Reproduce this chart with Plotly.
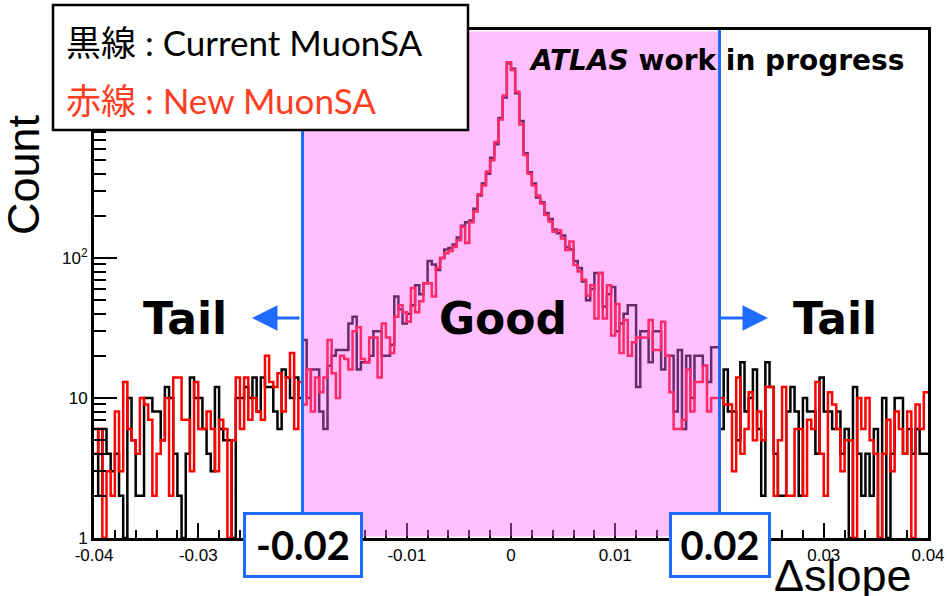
import numpy as np
import plotly.graph_objects as go

# ---- data: 200 bins of Δslope in [-0.04, 0.04] ----
x_min, x_max, n_bins = -0.04, 0.04, 200

current_tail_left = [6, 2, 6, 4, 3, 4, 2, 1, 10, 5, 2, 2, 10, 10, 8, 8, 5, 12, 10, 4,
                     2, 1, 4, 14, 10, 10, 6, 4, 3, 12, 6, 5, 5, 1, 10, 10, 12, 10, 14, 8,
                     14, 12, 12, 8, 6, 16, 14, 10, 14, 10]
current_core_left = [26, 10, 16, 16, 8, 6, 17, 20, 22, 22, 22, 34, 38, 16, 18, 18, 20, 30, 30, 20,
                     20, 24, 53, 43, 34, 40, 46, 64, 55, 66, 95, 90, 82, 100, 115, 118, 125, 140, 170, 180,
                     185, 225, 280, 340, 400, 520, 650, 1000, 1400, 2450]
current_core_right = [2250, 1500, 950, 560, 410, 340, 270, 250, 210, 190, 160, 150, 145, 120, 115, 95, 85, 68, 50, 60,
                      78, 78, 45, 55, 62, 30, 34, 40, 46, 46, 12, 30, 30, 18, 30, 30, 16, 20, 20, 8,
                      22, 6, 20, 10, 20, 20, 17, 13, 23, 23]
current_tail_right = [6, 16, 8, 8, 5, 18, 8, 10, 16, 6, 2, 18, 12, 4, 2, 2, 8, 12, 8, 2,
                      10, 8, 8, 4, 14, 8, 8, 6, 8, 4, 6, 1, 12, 4, 2, 4, 2, 6, 1, 10,
                      1, 4, 10, 10, 4, 6, 4, 6, 4, 4]

new_tail_left = [4, 6, 1, 3, 2, 8, 3, 13, 6, 5, 4, 10, 9, 7, 2, 4, 5, 10, 2, 14,
                 14, 7, 7, 3, 13, 6, 6, 8, 6, 3, 7, 6, 1, 5, 14, 6, 14, 7, 10, 8,
                 7, 20, 13, 12, 15, 8, 14, 21, 6, 13]
new_core_left = [9, 16, 8, 14, 11, 14, 26, 15, 10, 20, 19, 16, 30, 32, 19, 18, 27, 27, 14, 34,
                 27, 21, 38, 46, 41, 35, 61, 41, 49, 66, 66, 53, 85, 100, 108, 112, 120, 134, 167, 128,
                 180, 215, 285, 330, 415, 500, 675, 975, 1450, 2500]
new_core_right = [2200, 1540, 900, 545, 400, 330, 280, 245, 203, 182, 154, 158, 138, 114, 131, 89, 80, 70, 54, 64,
                  37, 78, 37, 64, 28, 47, 21, 36, 20, 25, 27, 27, 27, 36, 22, 22, 35, 20, 11, 6,
                  6, 7, 16, 8, 13, 13, 17, 8, 10, 10]
new_tail_right = [10, 9, 9, 3, 14, 4, 6, 11, 5, 8, 5, 12, 12, 2, 5, 12, 2, 2, 6, 6,
                  2, 7, 6, 13, 4, 2, 11, 9, 6, 3, 5, 5, 1, 10, 6, 10, 5, 4, 1, 4,
                  7, 3, 8, 6, 4, 8, 1, 9, 6, 11]

# -0.02 and 0.02 labels are hidden under the cut boxes in the reference
x_tick_vals = [-0.04, -0.03, -0.02, -0.01, 0, 0.01, 0.02, 0.03, 0.04]
x_tick_text = ["-0.04", "-0.03", "", "-0.01", "0", "0.01", "", "0.03", "0.04"]
y_tick_vals = [1, 10, 100]
y_tick_text = ["1", "10", "10<sup>2</sup>"]
cut_low, cut_high = -0.02, 0.02

current = current_tail_left + current_core_left + current_core_right + current_tail_right
new = new_tail_left + new_core_left + new_core_right + new_tail_right

edges = np.linspace(x_min, x_max, n_bins + 1)


def step_xy(counts):
    return list(edges), list(counts) + [counts[-1]]


fig = go.Figure()
for counts, color in [(current, "#000000"), (new, "#FF0000")]:
    sx, sy = step_xy(counts)
    fig.add_trace(go.Scatter(x=sx, y=sy, mode="lines", line=dict(color=color, width=2.5, shape="hv"),
                             showlegend=False, hoverinfo="skip"))

W, H = 950, 596
L, R, T, B = 94, 22, 30, 58
pw, ph = W - L - R, H - T - B


def px(xp):
    return (xp - L) / pw


def py(yp):
    return (H - B - yp) / ph


blue = "#1F6BFF"
TXT = "Liberation Sans, Arial, sans-serif"
HEAVY = "DejaVu Sans, sans-serif"
NUM = "Lato, 'Noto Sans', sans-serif"

shapes = [
    # pink "Good" region overlay
    dict(type="rect", xref="x", yref="paper", x0=cut_low, x1=cut_high, y0=1.5 / ph, y1=1 - 1.5 / ph,
         fillcolor="rgba(255,100,250,0.42)", line=dict(width=0), layer="above"),
    dict(type="line", xref="x", yref="paper", x0=cut_low, x1=cut_low, y0=py(512), y1=1,
         line=dict(color=blue, width=3), layer="above"),
    dict(type="line", xref="x", yref="paper", x0=cut_high, x1=cut_high, y0=py(512), y1=1,
         line=dict(color=blue, width=3), layer="above"),
    # legend box
    dict(type="rect", xref="paper", yref="paper", x0=px(53), x1=px(468), y0=py(130), y1=py(5),
         fillcolor="white", line=dict(color="black", width=2.5), layer="above"),
]

ann = []
ann.append(dict(x=px(64), y=py(42), xref="paper", yref="paper", xanchor="left", yanchor="middle",
                text="黒線 : Current MuonSA", showarrow=False,
                font=dict(family="Lato, 'Noto Sans CJK JP'", size=35, color="black")))
ann.append(dict(x=px(64), y=py(100), xref="paper", yref="paper", xanchor="left", yanchor="middle",
                text="赤線 : New MuonSA", showarrow=False,
                font=dict(family="Lato, 'Noto Sans CJK JP'", size=35, color="#FF3D1F")))
ann.append(dict(x=px(527), y=py(60), xref="paper", yref="paper", xanchor="left", yanchor="middle",
                text="<i><b>ATLAS</b></i><b> work in progress</b>", showarrow=False,
                font=dict(family=HEAVY, size=28, color="black")))
for label, cx in [("Tail", 185), ("Good", 503), ("Tail", 835)]:
    ann.append(dict(x=px(cx), y=py(318), xref="paper", yref="paper", xanchor="center", yanchor="middle",
                    text="<b>" + label + "</b>", showarrow=False,
                    font=dict(family=HEAVY, size=44, color="black")))
# arrows
ann.append(dict(x=px(252), y=py(318), xref="paper", yref="paper", ax=49, ay=0, axref="pixel", ayref="pixel",
                text="", showarrow=True, arrowhead=2, arrowsize=1.7, arrowwidth=3, arrowcolor=blue, standoff=0))
ann.append(dict(x=px(768), y=py(318), xref="paper", yref="paper", ax=-50, ay=0, axref="pixel", ayref="pixel",
                text="", showarrow=True, arrowhead=2, arrowsize=1.7, arrowwidth=3, arrowcolor=blue, standoff=0))
# cut value boxes
for label, xv, w in [("-0.02", cut_low, 114), ("0.02", cut_high, 96)]:
    ann.append(dict(x=xv, y=py(544.5), xref="x", yref="paper", xanchor="center", yanchor="middle",
                    text="<b>" + label + "</b>", showarrow=False, bgcolor="white", bordercolor=blue, borderwidth=3,
                    borderpad=0, width=w, height=60,
                    font=dict(family=NUM, size=40, color="black", weight=900)))
# axis titles
ann.append(dict(x=px(23), y=py(175), xref="paper", yref="paper", xanchor="center", yanchor="middle",
                text="Count", textangle=-90, showarrow=False, font=dict(family=TXT, size=45, color="black")))
ann.append(dict(x=px(843), y=py(575), xref="paper", yref="paper", xanchor="center", yanchor="middle",
                text="Δslope", showarrow=False, font=dict(family=TXT, size=45, color="black")))

minor_y = [m * 10 ** k for k in range(4) for m in range(2, 10)]

fig.update_layout(
    width=W, height=H, margin=dict(l=L, r=R, t=T, b=B, autoexpand=False),
    paper_bgcolor="white", plot_bgcolor="white",
    shapes=shapes, annotations=ann,
    xaxis=dict(range=[x_min, x_max], tickmode="array", tickvals=x_tick_vals, ticktext=x_tick_text,
               ticks="inside", ticklen=15, tickwidth=2, tickcolor="black", automargin=False,
               minor=dict(ticks="inside", ticklen=8, tickwidth=2, tickcolor="black", dtick=0.002, tick0=0),
               showline=True, linecolor="black", linewidth=3, mirror=True, showgrid=False, zeroline=False,
               tickfont=dict(family=TXT, size=17, color="black")),
    yaxis=dict(type="log", range=[0, ph / 140.0], tickmode="array", tickvals=y_tick_vals, ticktext=y_tick_text,
               ticks="inside", ticklen=23, tickwidth=2, tickcolor="black", automargin=False,
               minor=dict(ticks="inside", ticklen=12, tickwidth=2, tickcolor="black", tickmode="array",
                          tickvals=minor_y),
               showline=True, linecolor="black", linewidth=3, mirror=True, showgrid=False, zeroline=False,
               tickfont=dict(family=TXT, size=17, color="black")),
)

fig.write_html("out.html")
